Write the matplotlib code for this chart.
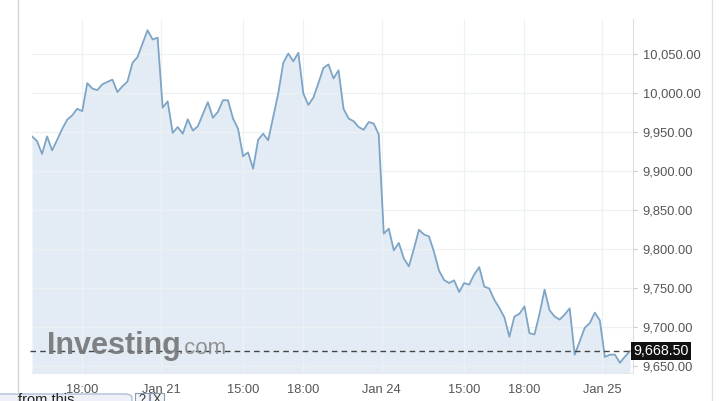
import matplotlib.pyplot as plt
import matplotlib.transforms as mtransforms
from matplotlib.patches import FancyBboxPatch, Rectangle
from matplotlib.ticker import FuncFormatter

# price series (one point per bar)
prices = [
    9944.5, 9938.5, 9922, 9944.5, 9926.5, 9940, 9954, 9966, 9971.5, 9980,
    9977, 10013, 10006, 10004, 10011.5, 10014.5, 10017.5, 10001.5, 10009, 10015,
    10039, 10046.5, 10064, 10081, 10069, 10071.5, 9981.5, 9989.5, 9949, 9956.5,
    9948, 9966.5, 9952, 9957.5, 9973, 9988.5, 9968.5, 9976, 9991, 9991,
    9967.5, 9954.5, 9919, 9924, 9903, 9940, 9948, 9939.5, 9969.5, 9999.5,
    10039, 10051, 10041, 10052, 9999.5, 9985, 9994.5, 10013, 10032.5, 10037,
    10019, 10029.5, 9980, 9967.5, 9964, 9956.5, 9953, 9963, 9961, 9947,
    9819.5, 9826, 9798, 9807.5, 9787.5, 9777.5, 9800, 9824.5, 9818.5, 9816,
    9796, 9772, 9760, 9756, 9759.5, 9744.5, 9756, 9754, 9767, 9776.5,
    9751.5, 9749, 9734.5, 9724, 9712, 9687, 9713, 9716.5, 9726, 9691.5,
    9690, 9716.5, 9747.5, 9721, 9713, 9709, 9715.5, 9723.5, 9664, 9681,
    9698.5, 9704.5, 9718, 9708, 9661, 9664, 9664, 9653.5, 9661.5, 9668.5,
]
last_price = 9668.5

x_tick_pos = [10, 25.7, 42, 54, 69.6, 86, 97.9, 113.5]
x_tick_labels = ['18:00', 'Jan 21', '15:00', '18:00', 'Jan 24', '15:00', '18:00', 'Jan 25']
y_ticks = [9650, 9700, 9750, 9800, 9850, 9900, 9950, 10000, 10050]

line_color = '#7ea5c6'
fill_color = '#e3ecf5'
text_color = '#555555'
grid_color = '#eef1f4'

plt.rcParams['font.family'] = ['Liberation Sans', 'DejaVu Sans']

W, H = 724, 401
fig = plt.figure(figsize=(W / 100, H / 100), dpi=100)
ax = fig.add_axes([32 / W, (H - 373) / H, (633 - 32) / W, (373 - 19) / H])

xs = list(range(len(prices)))
ax.fill_between(xs, prices, 9600, color=fill_color, lw=0, zorder=1)
ax.plot(xs, prices, color=line_color, lw=1.3, zorder=3)

ax.set_xlim(0, 119.6)
ax.set_ylim(9640.4, 10095.4)

# dashed line for the last price
ax.axhline(last_price, xmin=-0.004, color='#444444', lw=1, ls=(0, (4, 3)), zorder=4, clip_on=False)

ax.set_xticks(x_tick_pos)
ax.set_xticklabels(x_tick_labels)
ax.set_yticks(y_ticks)
ax.yaxis.set_major_formatter(FuncFormatter(lambda v, p: f'{v:,.2f}'))
ax.yaxis.tick_right()
ax.tick_params(axis='x', length=0, pad=8, labelsize=9.3, labelcolor=text_color)
ax.tick_params(axis='y', length=3, width=0.8, color='#cccccc', pad=4, labelsize=9.3, labelcolor=text_color)
ax.grid(True, color=grid_color, lw=0.9, zorder=0)
for s in ['top', 'left']:
    ax.spines[s].set_visible(False)
ax.spines['right'].set_color('#dddddd')
ax.spines['right'].set_linewidth(0.8)
ax.spines['bottom'].set_color('#e6eaee')

# price label on the right axis
trans = mtransforms.blended_transform_factory(ax.transAxes, ax.transData)
ax.text(1.0, last_price, '9,668.50', transform=trans, ha='left', va='center',
        color='white', fontsize=10.3, zorder=10, clip_on=False,
        bbox=dict(boxstyle='square,pad=0.16', fc='#111111', ec='none'))

# watermark
ax.text(0.025, 0.054, 'Investing', transform=ax.transAxes, fontsize=22, fontweight='bold',
        color='#777777', alpha=0.92, zorder=5, va='baseline')
ax.text(0.243, 0.054, '.com', transform=ax.transAxes, fontsize=16, color='#8a8a8a',
        alpha=0.92, zorder=5, va='baseline')

# page frame lines
fig.add_artist(plt.Line2D([18 / W, 18 / W], [0, 1], color='#d5d5d5', lw=1))
fig.add_artist(plt.Line2D([712 / W, 712 / W], [0, 1], color='#e2e2e2', lw=1))

# clipped popup bar at the bottom
fig.add_artist(FancyBboxPatch((-10 / W, -10 / H), 142 / W, 17 / H,
                              boxstyle='round,pad=0,rounding_size=0.01',
                              fc='#eef2f8', ec='#9fb3cc', lw=0.8))
fig.text(18 / W, -6 / H, 'from this', fontsize=10.5, color='#222222', va='bottom')
for bx, lab in [(135, '?'), (150, 'X')]:
    fig.add_artist(Rectangle((bx / W, -4 / H), 14 / W, 12 / H, fc='#f2f4f8', ec='#8a9bb3', lw=0.8))
    fig.text((bx + 7) / W, -5 / H, lab, fontsize=9, color='#333333', ha='center', va='bottom')

fig.savefig('out.png', dpi=100)
